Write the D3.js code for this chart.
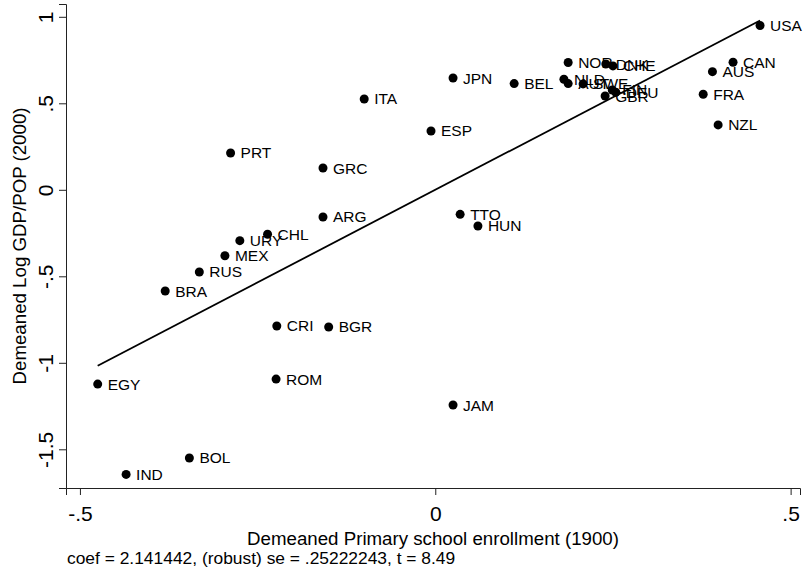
<!DOCTYPE html>
<html>
<head>
<meta charset="utf-8">
<script src="https://cdn.jsdelivr.net/npm/d3@7"></script>
<style>
  html, body { margin: 0; padding: 0; background: #fff; }
  svg { display: block; font-family: "Liberation Sans", Arial, sans-serif; }
</style>
</head>
<body>
<svg id="chart" width="806" height="569"></svg>
<script>
// Country codes and demeaned values
const countries = ["USA","CAN","AUS","FRA","NZL","NOR","DNK","CHE","NLD","AUT","SWE","FIN","DEU","GBR","BEL","JPN","ITA","ESP","PRT","GRC","ARG","TTO","HUN","CHL","URY","MEX","RUS","BRA","CRI","BGR","ROM","JAM","EGY","BOL","IND"];
const enrollment = [0.457,0.419,0.390,0.377,0.398,0.187,0.240,0.250,0.181,0.187,0.208,0.249,0.254,0.239,0.111,0.025,-0.100,-0.006,-0.288,-0.158,-0.158,0.035,0.060,-0.236,-0.275,-0.296,-0.332,-0.380,-0.223,-0.150,-0.224,0.025,-0.475,-0.346,-0.435];
const logGdp = [0.950,0.737,0.683,0.552,0.375,0.736,0.727,0.716,0.639,0.614,0.612,0.577,0.564,0.542,0.614,0.646,0.525,0.340,0.213,0.126,-0.157,-0.142,-0.209,-0.257,-0.294,-0.381,-0.475,-0.585,-0.787,-0.793,-1.094,-1.244,-1.123,-1.550,-1.645];

// Tick values
const xTicks = [-0.5, 0, 0.5];
const yTicks = [-1.5, -1, -0.5, 0, 0.5, 1];

// Regression results
const coef = 2.141442;
const intercept = 0;
const noteText = "coef = 2.141442, (robust) se = .25222243, t = 8.49";

const svg = d3.select("#chart");

const plot = { left: 66, right: 800, top: 4, bottom: 488 };

const x = d3.scaleLinear().domain([-0.5196, 0.5132]).range([plot.left, plot.right]);
const y = d3.scaleLinear().domain([-1.7237, 1.074]).range([plot.bottom, plot.top]);

const fmt = d => d === 0 ? "0" : String(d).replace(/^(-?)0\./, "$1.");
const tickFont = 21;

// x axis
const gx = svg.append("g")
  .attr("transform", `translate(0,${plot.bottom})`)
  .call(d3.axisBottom(x).tickValues(xTicks).tickFormat(fmt).tickSizeOuter(0).tickSize(7));
gx.selectAll(".tick text")
  .attr("font-size", tickFont).attr("fill", "#000")
  .attr("font-family", "Liberation Sans, Arial, sans-serif")
  .attr("y", 25).attr("dy", null)
  .attr("dominant-baseline", "central");

// y axis
const gy = svg.append("g")
  .attr("transform", `translate(${plot.left},0)`)
  .call(d3.axisLeft(y).tickValues(yTicks).tickFormat(fmt).tickSizeOuter(0).tickSize(7));
gy.selectAll(".tick text")
  .attr("font-size", tickFont).attr("fill", "#000")
  .attr("font-family", "Liberation Sans, Arial, sans-serif")
  .attr("x", null).attr("dy", null)
  .attr("text-anchor", "middle")
  .attr("dominant-baseline", "central")
  .attr("transform", "translate(-21,0) rotate(-90)");

svg.selectAll(".domain, .tick line").attr("stroke", "#222").attr("stroke-width", 1);

// axis titles
svg.append("text")
  .attr("x", (plot.left + plot.right) / 2)
  .attr("y", 538)
  .attr("text-anchor", "middle")
  .attr("dominant-baseline", "central")
  .attr("font-size", 18.7)
  .text("Demeaned Primary school enrollment (1900)");

svg.append("text")
  .attr("transform", `translate(19,${(plot.top + plot.bottom) / 2}) rotate(-90)`)
  .attr("text-anchor", "middle")
  .attr("dominant-baseline", "central")
  .attr("font-size", 18.7)
  .text("Demeaned Log GDP/POP (2000)");

// note
svg.append("text")
  .attr("x", 67)
  .attr("y", 558)
  .attr("dominant-baseline", "central")
  .attr("font-size", 17.4)
  .text(noteText);

// fitted line over the data range
const [xmin, xmax] = d3.extent(enrollment);
svg.append("line")
  .attr("x1", x(xmin)).attr("y1", y(intercept + coef * xmin))
  .attr("x2", x(xmax)).attr("y2", y(intercept + coef * xmax))
  .attr("stroke", "#000").attr("stroke-width", 1.8);

// points and labels
const data = countries.map((c, i) => ({ c, x: enrollment[i], y: logGdp[i] }));
const pts = svg.append("g");
pts.selectAll("circle").data(data).join("circle")
  .attr("cx", d => x(d.x)).attr("cy", d => y(d.y)).attr("r", 4.5).attr("fill", "#000");
pts.selectAll("text").data(data).join("text")
  .attr("x", d => x(d.x) + 10).attr("y", d => y(d.y))
  .attr("dominant-baseline", "central")
  .attr("font-size", 15.5)
  .attr("fill", "#000")
  .text(d => d.c);
</script>
</body>
</html>
